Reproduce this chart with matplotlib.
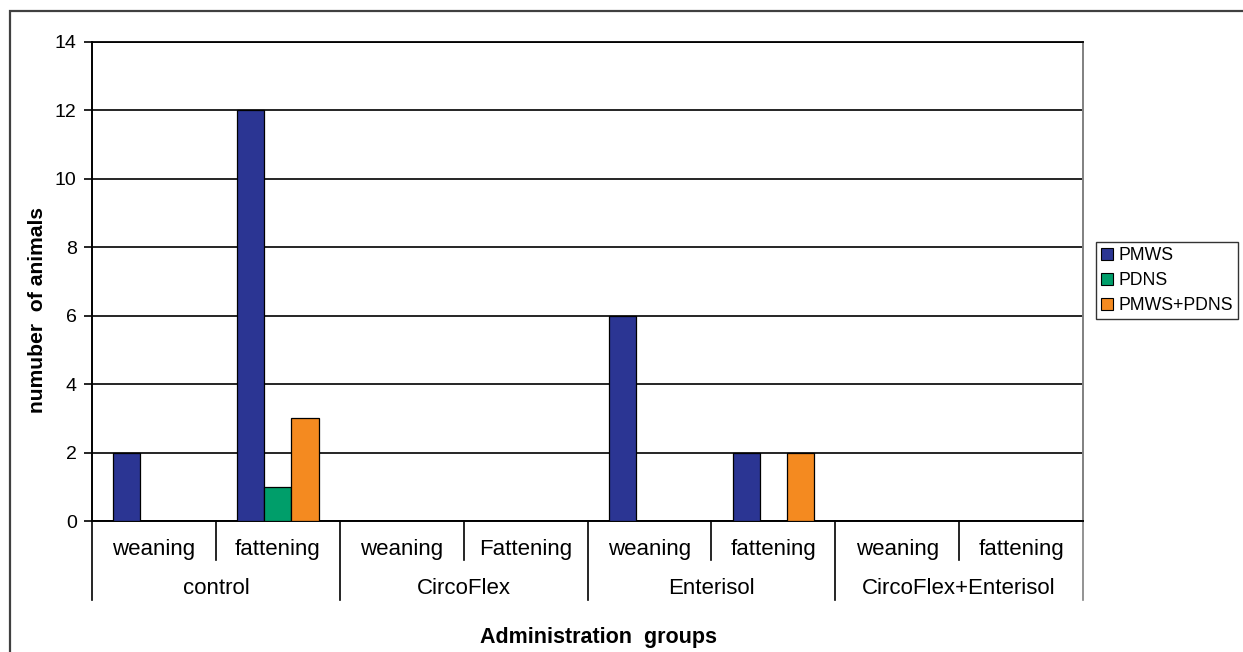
import matplotlib
matplotlib.use("Agg")
import matplotlib.pyplot as plt
from matplotlib.patches import Patch, Rectangle
import numpy as np

plt.rcParams['font.family'] = ['Liberation Sans', 'DejaVu Sans']

groups = ["control", "CircoFlex", "Enterisol", "CircoFlex+Enterisol"]
subgroups = ["weaning", "fattening", "weaning", "Fattening",
             "weaning", "fattening", "weaning", "fattening"]
series_names = ["PMWS", "PDNS", "PMWS+PDNS"]
pmws = [2, 12, 0, 0, 6, 2, 0, 0]
pdns = [0, 1, 0, 0, 0, 0, 0, 0]
pmws_pdns = [0, 3, 0, 0, 0, 2, 0, 0]
colors = ["#2B3593", "#009E6A", "#F48A20"]

W, H = 1243, 652
fig = plt.figure(figsize=(W / 100, H / 100), dpi=100)
ax = fig.add_axes([92 / W, 1 - 521 / H, (1083 - 92) / W, (521 - 42) / H])

# outer frame
fig.patches.append(Rectangle((10 / W, -0.1), 1.2, 1 - 11 / H + 0.1,
                             transform=fig.transFigure, fill=False,
                             edgecolor="#404040", linewidth=1.6))

n = len(subgroups)
x = np.arange(n) + 0.5
bw = 0.219
for k, (vals, c, name) in enumerate(zip([pmws, pdns, pmws_pdns], colors, series_names)):
    ax.bar(x + (k - 1) * bw, vals, width=bw, color=c, edgecolor="black",
           linewidth=0.9, label=name, zorder=3)

ax.set_xlim(0, n)
ax.set_ylim(0, 14)
ax.set_yticks(range(0, 15, 2))
ax.yaxis.grid(True, color="black", linewidth=1.2, zorder=0)
ax.set_axisbelow(True)
ax.tick_params(axis="y", direction="out", length=6, width=1.2, labelsize=14, pad=5)
ax.set_xticks([])
ax.spines["top"].set_color("black")
ax.spines["top"].set_linewidth(1.3)
ax.spines["right"].set_color("#808080")
ax.spines["right"].set_linewidth(1.4)
ax.spines["left"].set_linewidth(1.4)
ax.spines["bottom"].set_linewidth(1.4)

trans = ax.get_xaxis_transform()
ax_h = 521 - 42
y_short = -(560 - 521) / ax_h
y_long = -(600 - 521) / ax_h
y_sub = -(549 - 521) / ax_h
y_grp = -(589 - 521) / ax_h

for i in range(n + 1):
    y_end = y_long if i % 2 == 0 else y_short
    col = "#808080" if i == n else "black"
    ax.plot([i, i], [0, y_end], transform=trans, color=col, linewidth=1.2,
            clip_on=False)
for i, s in enumerate(subgroups):
    ax.text(i + 0.5, y_sub, s, transform=trans, ha="center", va="center",
            fontsize=16)
for j, g in enumerate(groups):
    ax.text(2 * j + 1, y_grp, g, transform=trans, ha="center", va="center",
            fontsize=16)

fig.text(598 / W, 1 - 637 / H, "Administration  groups", ha="center", va="center",
         fontsize=15.5, fontweight="bold")
fig.text(38 / W, 1 - 310 / H, "numuber  of animals", ha="center", va="center",
         rotation=90, fontsize=15.2, fontweight="bold")

handles = [Patch(facecolor=c, edgecolor="black", linewidth=0.8) for c in colors]
leg = fig.legend(handles, series_names, loc="upper left",
                 bbox_to_anchor=(1096 / W, 1 - 242 / H), fontsize=12.7,
                 frameon=True, fancybox=False, handlelength=0.65, handleheight=0.65,
                 handletextpad=0.3, labelspacing=0.45, borderpad=0.3,
                 borderaxespad=0)
leg.get_frame().set_edgecolor("black")
leg.get_frame().set_linewidth(1.0)

fig.savefig("out.png", dpi=100)
